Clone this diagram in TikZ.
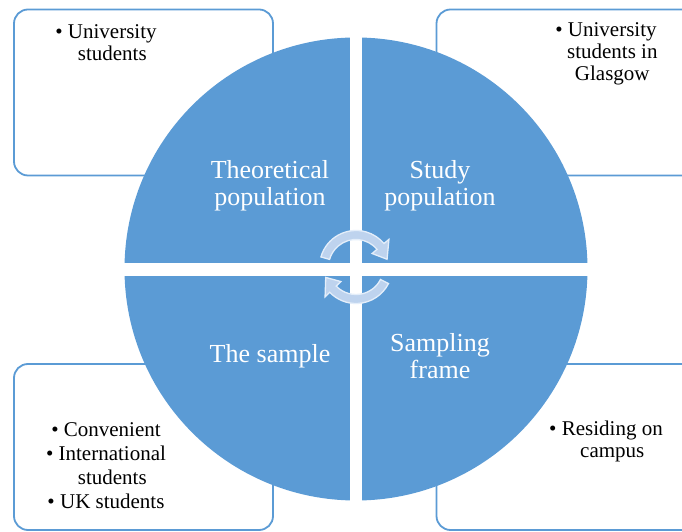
\documentclass[tikz,border=0pt]{standalone}
\usepackage{fontspec}
\setmainfont{Liberation Serif}
\definecolor{qblue}{RGB}{91,155,213}
\definecolor{arrowblue}{RGB}{190,211,238}
\definecolor{arrowedge}{RGB}{228,238,250}
\tikzset{
  infobox/.style={draw=qblue, line width=1.8pt, fill=white, rounded corners=14pt, minimum width=259pt, minimum height=166pt, inner sep=0pt},
  bullettext/.style={align=center, font=\fontsize{21}{22}\selectfont, text=black, inner sep=0pt},
  quadtext/.style={align=center, font=\fontsize{26}{27}\selectfont, text=white, inner sep=0pt},
  cyclearrow/.style={fill=arrowblue, draw=arrowedge, line width=1.3pt, line join=miter}
}
\begin{document}
\begin{tikzpicture}[x=1pt,y=1pt]
\useasboundingbox (0,0) rectangle (682,532);
% outer boxes
\node[infobox] (tl) at (143.5,439.5) {};
\node[infobox] (tr) at (566,439.5) {};
\node[infobox] (bl) at (143.5,85) {};
\node[infobox] (br) at (566,85) {};
% central disc
\coordinate (c) at (356,263);
\node[circle, fill=qblue, minimum size=463pt, inner sep=0pt] (disc) at (c) {};
% white cross
\fill[white] (350,20) rectangle (362,506);
\fill[white] (110,255.5) rectangle (600,269);
% quadrant labels
\node[quadtext] (theo) at (270,346) {Theoretical\\population};
\node[quadtext] (study) at (440,346) {Study\\population};
\node[quadtext] (sample) at (270,176) {The sample};
\node[quadtext] (frame) at (440,176) {Sampling\\frame};
% bullet texts
\node[bullettext] (tltext) at (106,489) {•~University\\\phantom{•~}students};
\node[bullettext] (trtext) at (606,478) {•~University\\\phantom{•~}students in\\\phantom{•~}Glasgow};
\node[bullettext, font=\fontsize{21}{24}\selectfont] (bltext) at (106,66) {•~Convenient\\•~International\\\phantom{•~}students\\•~UK students};
\node[bullettext] (brtext) at (606,91) {•~Residing on\\\phantom{•~}campus};
% cycle arrows
\coordinate (ac) at (356,265);
\begin{scope}[shift={(ac)}]
\draw[cyclearrow] (164:36.5) arc[start angle=164, end angle=40, radius=36.5]
  -- (40:43) -- (14:32) -- (40:21) -- (40:27.5)
  arc[start angle=40, end angle=164, radius=27.5] -- cycle;
\draw[cyclearrow] (-27:36.5) arc[start angle=-27, end angle=-136, radius=36.5]
  -- (-136:43) -- (-161:32) -- (-136:21) -- (-136:27.5)
  arc[start angle=-136, end angle=-27, radius=27.5] -- cycle;
\end{scope}
\end{tikzpicture}
\end{document}
